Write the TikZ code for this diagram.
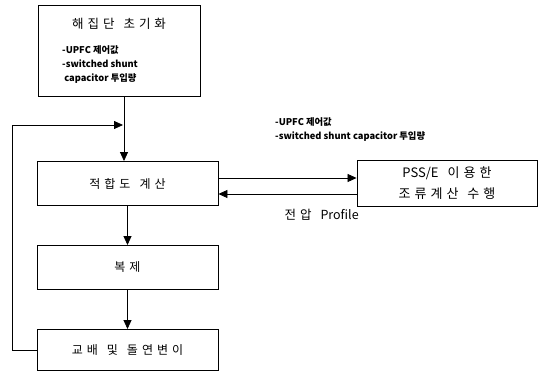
\documentclass[tikz,border=0pt]{standalone}
\usepackage{fontspec}
\setmainfont{Noto Sans CJK KR}
\usepackage{tikz}
\usetikzlibrary{arrows.meta,positioning}

\tikzset{
  stepbox/.style={draw,line width=0.9pt,minimum width=181pt,minimum height=44pt,font=\fontsize{12}{14}\selectfont,inner sep=0pt},
  note/.style={font=\fontsize{9.3}{14}\selectfont\bfseries,align=left,inner sep=0pt},
  flow/.style={line width=0.8pt,-{Triangle[length=9pt,width=8pt]}}
}
\newcommand{\gap}{\hspace{4pt}}
\newcommand{\wgap}{\hspace{9pt}}

\begin{document}
\begin{tikzpicture}[x=1pt,y=-1pt]
          \useasboundingbox (0,0) rectangle (539,374);
          % boxes
          \node[stepbox,minimum width=162pt,minimum height=91pt] (init) at (119,50.5){};
          \node[font=\fontsize{12.5}{14}\selectfont] (initt) at (119,24){해\gap 집\gap 단\wgap 초\gap 기\gap 화};
          \node[note,anchor=north west] (initn) at (62,45){-UPFC 제어값\\-switched shunt\\\ capacitor 투입량};
          \node[stepbox] (fit) at (127.5,183.5){적\gap 합\gap 도\wgap 계\gap 산};
          \node[stepbox] (copy) at (127.5,267.5){복\gap 제};
          \node[stepbox,minimum height=41pt] (cross) at (127.5,350){교\gap 배\wgap 및\wgap 돌\gap 연\gap 변\gap 이};
          \node[stepbox,minimum width=180pt,minimum height=46pt,align=center,font=\fontsize{13}{21}\selectfont] (pss) at (447,183){PSS/E\wgap 이\gap 용\gap 한\\조\gap 류\gap 계\gap 산\wgap 수\gap 행};
          % labels
          \node[note,anchor=north west] (ctrl) at (275,117){-UPFC 제어값\\-switched shunt capacitor 투입량};
          \node[font=\fontsize{12.5}{14}\selectfont,anchor=west] (volt) at (281,215){전\gap 압\wgap Profile};
          % connectors
          \coordinate (merge) at (124,125);
          \coordinate (loopb) at (12,350);
          \coordinate (loopt) at (12,125);
          \draw[line width=0.8pt] (init.south -| merge) -- (merge);
          \draw[flow] (merge) -- (merge |- fit.north);
          \draw[flow] (fit) -- (copy);
          \draw[flow] (copy) -- (cross);
          \draw[flow] (cross.west) -- (loopb) -- (loopt) -- ([xshift=-1pt]merge);
          \draw[flow] ([yshift=5.5pt]fit.east) -- ([yshift=5.5pt]fit.east -| pss.west);
          \draw[flow] ([yshift=-10.5pt]fit.east -| pss.west) -- ([yshift=-10.5pt]fit.east);
        \end{tikzpicture}
\end{document}
